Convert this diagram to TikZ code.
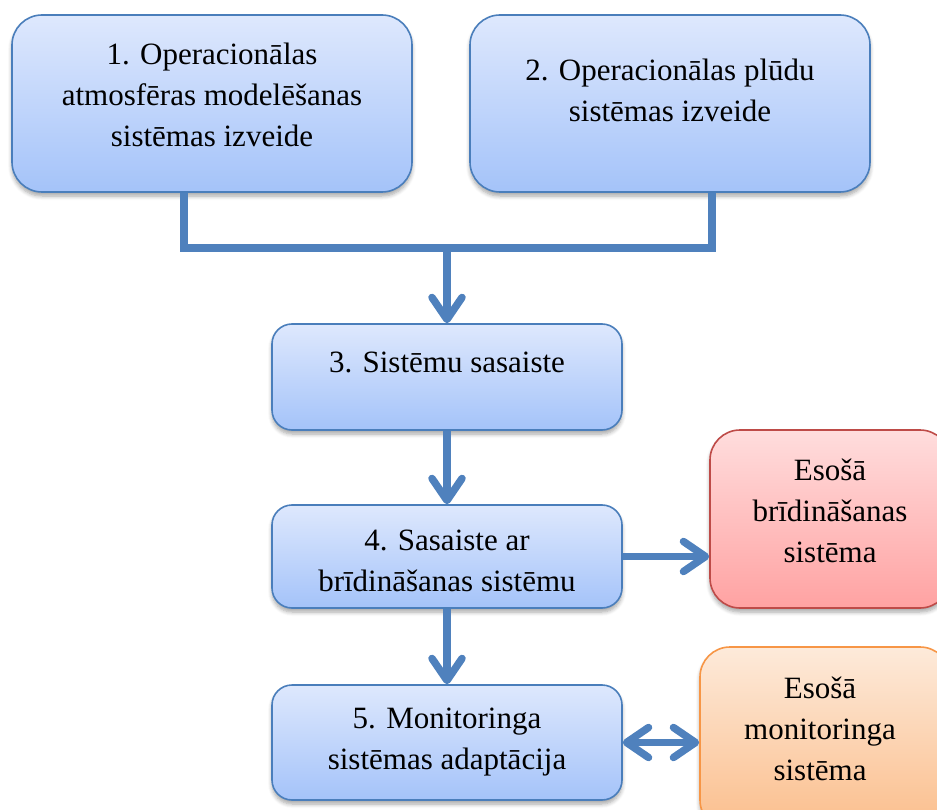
\documentclass[tikz,border=0pt]{standalone}
\usepackage{fontspec}
\setmainfont{Liberation Serif}
\usetikzlibrary{arrows.meta,shadows.blur,calc}
\definecolor{lineblue}{HTML}{4F81BD}
\definecolor{edgeblue}{HTML}{4A7EBB}
\definecolor{blueTop}{HTML}{DEE8FD}
\definecolor{blueBot}{HTML}{A4C3F9}
\definecolor{edgered}{HTML}{BE4B48}
\definecolor{redTop}{HTML}{FFDDDD}
\definecolor{redBot}{HTML}{FFA2A2}
\definecolor{edgeorange}{HTML}{F79646}
\definecolor{orangeTop}{HTML}{FDEADA}
\definecolor{orangeBot}{HTML}{FBBE8C}
\tikzset{
  card/.style={line width=1.6pt, inner sep=0pt,
    blur shadow={shadow xshift=0pt, shadow yshift=-4pt,
      shadow blur radius=4pt, shadow blur steps=6, shadow opacity=35}},
  bluebox/.style={card, draw=edgeblue, top color=blueTop, bottom color=blueBot},
  redbox/.style={card, draw=edgered, top color=redTop, bottom color=redBot},
  orangebox/.style={card, draw=edgeorange, top color=orangeTop, bottom color=orangeBot},
  txt/.style={align=center, inner sep=0pt, font=\fontsize{31}{41}\selectfont},
  conn/.style={draw=lineblue, line width=7.5pt},
  chev/.tip={Straight Barb[length=22pt, width=30pt, round]},
  arr/.style={conn, -{chev}},
  dblarr/.style={conn, {chev}-{chev}},
}
\begin{document}
\begin{tikzpicture}[x=1pt, y=-1pt]
\useasboundingbox (0,0) rectangle (937,810);

% process boxes
\node[bluebox, rounded corners=30pt, minimum width=400pt, minimum height=177pt] (b1) at (212,103.5) {};
\node[bluebox, rounded corners=30pt, minimum width=400pt, minimum height=177pt] (b2) at (670,103.5) {};
\node[bluebox, rounded corners=20pt, minimum width=350pt, minimum height=106pt] (b3) at (447,377) {};
\node[bluebox, rounded corners=20pt, minimum width=350pt, minimum height=103pt] (b4) at (447,556.5) {};
\node[bluebox, rounded corners=20pt, minimum width=350pt, minimum height=115pt] (b5) at (447,742.5) {};

% existing systems
\node[redbox, rounded corners=30pt, minimum width=240pt, minimum height=178pt] (warn) at (830,519) {};
\node[orangebox, rounded corners=30pt, minimum width=250pt, minimum height=183pt] (mon) at (825,738.5) {};

% labels
\node[txt] (t1) at (212,95) {1. Operacionālas\\atmosfēras modelēšanas\\sistēmas izveide};
\node[txt] (t2) at (670,90) {2. Operacionālas plūdu\\sistēmas izveide};
\node[txt] (t3) at (447,362) {3. Sistēmu sasaiste};
\node[txt] (t4) at (447,561) {4. Sasaiste ar\\brīdināšanas sistēmu};
\node[txt] (t5) at (447,742) {5. Monitoringa\\sistēmas adaptācija};
\node[txt] (tw) at (830,511) {Esošā\\brīdināšanas\\sistēma};
\node[txt] (tm) at (820,729) {Esošā\\monitoringa\\sistēma};

% merging connector from steps 1 and 2
\coordinate (jl) at ($(b1.south)+(-28,55)$);
\coordinate (jr) at ($(b2.south)+(42,55)$);
\coordinate (mj) at (jl -| b3.north);
\draw[conn] ($(b1.south)+(-28,0)$) -- (jl) -- (jr) -- ($(b2.south)+(42,0)$);
\draw[arr] (mj) -- (b3.north);

% flow between steps
\draw[arr] (b3.south) -- (b4.north);
\draw[arr] (b4.south) -- (b5.north);
\draw[arr] (b4.east) -- (b4.east -| warn.west);
\draw[dblarr] (b5.east) -- (b5.east -| mon.west);
\end{tikzpicture}
\end{document}
